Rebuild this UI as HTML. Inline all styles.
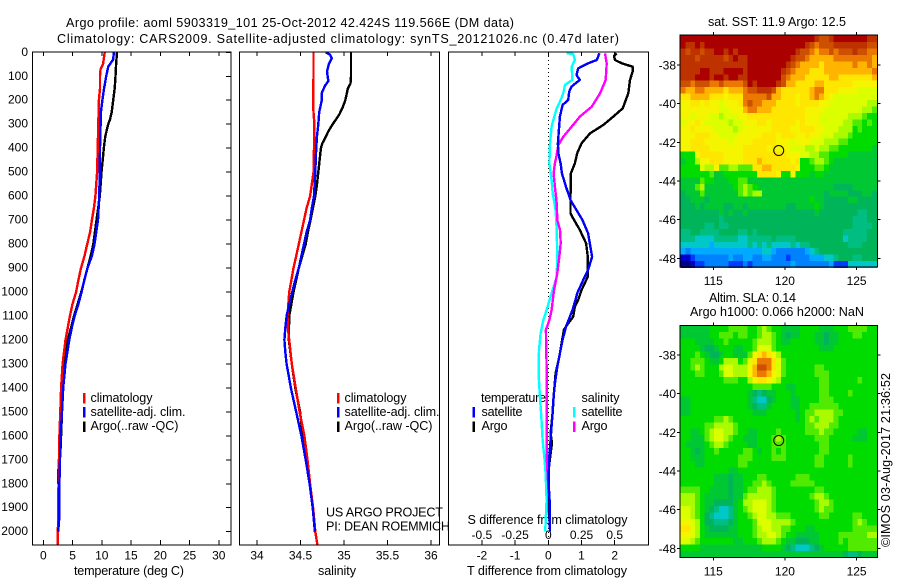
<!DOCTYPE html>
<html>
<head>
<meta charset="utf-8">
<title>Argo profile</title>
<style>
html,body{margin:0;padding:0;background:#fff;}
svg{display:block;}
text{font-family:"Liberation Sans",sans-serif;font-size:12.6px;fill:#000;}
#layer text{font-size:12px;}
</style>
</head>
<body>
<svg id="fig" xmlns="http://www.w3.org/2000/svg" width="900" height="580" viewBox="0 0 900 580">
<rect x="0" y="0" width="900" height="580" fill="#fff"/>
<text x="66" y="27" textLength="448">Argo profile: aoml 5903319_101 25-Oct-2012 42.424S 119.566E (DM data)</text>
<text x="57" y="43" textLength="562">Climatology: CARS2009. Satellite-adjusted climatology: synTS_20121026.nc (0.47d later)</text>
<text x="74" y="575" textLength="110">temperature (deg C)</text>
<text x="318" y="575" textLength="38">salinity</text>
<text x="467" y="575" textLength="160">T difference from climatology</text>
<text x="467.5" y="524" textLength="160">S difference from climatology</text>
<text x="90.5" y="402" textLength="62">climatology</text>
<text x="90.5" y="416" textLength="95">satellite-adj. clim.</text>
<text x="90.5" y="430" textLength="88">Argo(..raw -QC)</text>
<rect x="83" y="393" width="2.5" height="10.5" fill="#f00"/>
<rect x="83" y="407" width="2.5" height="10.5" fill="#00f"/>
<rect x="83" y="421.5" width="2.5" height="10.5" fill="#000"/>
<text x="344.5" y="402" textLength="62">climatology</text>
<text x="344.5" y="416" textLength="95">satellite-adj. clim.</text>
<text x="344.5" y="430" textLength="88">Argo(..raw -QC)</text>
<rect x="337" y="393" width="2.5" height="10.5" fill="#f00"/>
<rect x="337" y="407" width="2.5" height="10.5" fill="#00f"/>
<rect x="337" y="421.5" width="2.5" height="10.5" fill="#000"/>
<text x="326" y="516.5" textLength="117">US ARGO PROJECT</text>
<text x="326" y="530.5" textLength="124">PI: DEAN ROEMMICH</text>
<text x="481" y="402" textLength="65">temperature</text>
<text x="481.5" y="416" textLength="41">satellite</text>
<text x="481.5" y="430" textLength="26">Argo</text>
<rect x="472.5" y="407" width="2.5" height="10.5" fill="#00f"/>
<rect x="472.5" y="421.5" width="2.5" height="10.5" fill="#000"/>
<text x="581.5" y="402" textLength="38">salinity</text>
<text x="581.5" y="416" textLength="41">satellite</text>
<text x="581.5" y="430" textLength="26">Argo</text>
<rect x="573" y="407" width="2.5" height="10.5" fill="#0ff"/>
<rect x="573" y="421.5" width="2.5" height="10.5" fill="#f0f"/>
<text x="708" y="26" textLength="138">sat. SST: 11.9 Argo: 12.5</text>
<text x="709" y="302" textLength="87">Altim. SLA: 0.14</text>
<text x="690" y="316" textLength="174">Argo h1000: 0.066 h2000: NaN</text>
<text transform="translate(890,547) rotate(-90)" x="0" y="0" textLength="174">©IMOS 03-Aug-2017 21:36:52</text>
<g id="layer"></g>
</svg>
<script>
var depthTicks=[0,100,200,300,400,500,600,700,800,900,1000,1100,1200,1300,1400,1500,1600,1700,1800,1900,2000];
var tempTicks=[0,5,10,15,20,25,30];
var salTicks=[34,34.5,35,35.5,36];
var tDiffTicks=[-2,-1,0,1,2];
var sDiffTicks=[-0.5,-0.25,0,0.25,0.5];
var lonTicks=[115,120,125];
var latTicks=[-38,-40,-42,-44,-46,-48];
var argoLon=119.566;
var argoLat=-42.424;

var tempClimDepth=[0,50,70,100,150,200,300,400,500,600,650,700,750,800,850,900,950,1000,1050,1100,1200,1300,1400,1500,1600,1800,2000,2056];
var tempClimValues=[10.5,10.2,9.8,9.7,9.7,9.5,9.4,9.3,9.2,8.9,8.65,8.3,8,7.5,7.05,6.45,6,5.6,5,4.55,3.8,3.3,3.05,2.9,2.75,2.6,2.5,2.5];
var tempSatDepth=[0,30,60,100,150,200,250,300,400,500,600,700,800,850,900,950,1000,1050,1100,1150,1200,1300,1400,1500,1600,1800,1950,2000];
var tempSatValues=[12.05,11.95,11.1,10.75,10.4,10.1,9.85,9.8,9.7,9.65,9.55,9.35,8.75,8.3,7.55,7,6.55,6,5.35,4.85,4.45,3.8,3.4,3.2,2.95,2.75,2.7,2.55];
var tempArgoDepth=[0,50,100,150,200,250,280,300,350,400,450,500,600,700,800,850,900,1000,1100,1200,1300,1400,1500,1650,1750,1800];
var tempArgoValues=[12.6,12.45,12.35,12.2,11.95,11.7,11.4,11.1,10.6,10.35,10.15,9.95,9.65,9.1,8.55,8.1,7.55,6.5,5.25,4.2,3.65,3.35,3.2,2.95,2.55,2.55];

var salClimDepth=[0,100,200,250,300,400,500,550,600,650,700,750,800,850,900,950,1000,1100,1150,1200,1300,1400,1500,1600,1700,1800,1900,2000,2056];
var salClimValues=[34.65,34.65,34.645,34.65,34.66,34.655,34.65,34.63,34.61,34.57,34.54,34.51,34.48,34.45,34.42,34.395,34.37,34.35,34.355,34.37,34.4,34.445,34.49,34.545,34.58,34.61,34.645,34.67,34.695];
var salSatDepth=[0,10,25,50,80,120,140,170,200,250,300,350,400,500,600,650,700,750,800,850,900,950,1000,1050,1100,1150,1200,1250,1300,1400,1450,1500,1600,1700,1800,1900,2000];
var salSatValues=[34.79,34.84,34.86,34.825,34.805,34.82,34.78,34.745,34.745,34.715,34.705,34.69,34.68,34.67,34.655,34.63,34.61,34.57,34.54,34.51,34.48,34.44,34.405,34.37,34.34,34.325,34.315,34.325,34.34,34.39,34.42,34.45,34.51,34.56,34.605,34.64,34.665];
var salArgoDepth=[0,100,130,150,200,230,260,300,330,360,380,400,450,500,550,600,700,750,800,900,1000,1100,1200,1300,1400,1500,1600,1800];
var salArgoValues=[35.08,35.08,35.075,35.045,35.015,34.985,34.945,34.87,34.82,34.78,34.75,34.735,34.72,34.705,34.69,34.67,34.615,34.585,34.56,34.48,34.42,34.37,34.365,34.4,34.44,34.495,34.525,34.61];

var dTSatDepth=[4,32,46,67,95,115,143,164,199,220,268,380,421,463,505,560,616,658,700,755,853,908,950,1005,1033,1075,1145,1200,1256,1311,1381,1451,1520,1576,1632,1686,1798,1868,2000];
var dTSatValues=[1.54,1.46,1.2,0.9,0.85,0.95,0.7,0.63,0.6,0.43,0.35,0.29,0.3,0.37,0.41,0.53,0.67,0.85,1.03,1.2,1.32,1.2,1.05,0.87,0.82,0.73,0.53,0.43,0.35,0.27,0.2,0.15,0.12,0.09,0.06,0.03,0.01,0.04,0.05];
var dTArgoDepth=[4,15,32,46,60,81,115,171,234,268,303,338,380,421,463,505,602,672,693,741,797,853,936,992,1033,1061,1103,1131,1158,1214,1270,1340,1423,1506,1590,1632,1673,1729,1950];
var dTArgoValues=[2.06,1.98,2.01,2.21,2.54,2.54,2.46,2.41,2.24,1.96,1.66,1.26,1,0.87,0.8,0.68,0.67,0.67,0.75,0.95,1.14,1.19,1.19,1,0.9,0.8,0.75,0.6,0.47,0.4,0.33,0.22,0.17,0.13,0.07,0.11,0.07,0.02,0.02];
var dSSatDepth=[4,7,32,60,115,136,171,199,234,268,310,380,463,533,588,658,741,853,936,1005,1075,1117,1173,1242,1340,1437,1520,1617,1687,1756,1868,2000];
var dSSatValues=[0.138,0.188,0.2,0.176,0.181,0.126,0.113,0.093,0.063,0.045,0.025,0.013,0.008,0.025,0.033,0.055,0.063,0.068,0.063,0.025,-0.013,-0.038,-0.058,-0.07,-0.073,-0.063,-0.053,-0.043,-0.03,-0.02,-0.013,-0.023];
var dSArgoDepth=[4,46,115,171,227,268,310,352,387,428,463,505,560,630,700,741,797,853,922,992,1075,1117,1158,1311,1617,1687,1729,1812,1937];
var dSArgoValues=[0.427,0.44,0.432,0.39,0.327,0.239,0.176,0.113,0.075,0.063,0.05,0.04,0.05,0.063,0.068,0.088,0.093,0.083,0.068,0.043,0.025,0.008,-0.018,-0.013,-0.013,-0.013,-0.008,0,0.005];

var sstGrid=[
[19,19,19,19,19,19,19,19,19,19,19,19,19,19,19,19,19,19,19,19,19,19,19,19,19,19,19,19,18,17,17,18,19,19,19,19,19,19,19,18,18],
[19,18,18,19,18,19,19,19,19,19,19,19,19,19,19,19,19,19,19,19,19,19,19,19,19,19,18,17,16,17,17,17,18,18,18,18,18,18,18,17,17],
[18,17,18,18,17,18,18,19,19,18,19,18,19,19,19,19,19,19,19,19,19,19,19,19,18,17,17,16,15,16,16,17,16,17,17,17,18,17,17,16,16],
[18,18,18,17,18,18,18,18,18,17,18,19,18,18,19,19,19,19,19,19,19,19,19,18,17,17,16,15,15,15,15,15,16,16,16,16,16,16,16,16,15],
[18,18,18,18,18,18,18,18,18,18,18,18,18,18,19,19,19,19,19,19,19,19,18,17,16,15,15,15,15,14,15,15,15,15,15,15,16,15,15,16,15],
[18,18,18,18,19,19,18,18,18,19,19,19,19,18,19,19,19,19,19,19,19,18,17,16,15,15,15,14,14,14,15,15,15,15,15,15,15,15,15,15,16],
[18,18,18,19,19,19,18,19,19,18,19,19,18,18,19,19,19,19,19,19,19,17,16,15,15,15,14,14,14,14,14,15,15,14,14,14,14,14,14,14,15],
[17,17,16,17,17,17,16,16,17,16,16,16,16,17,19,18,19,19,19,19,18,17,15,15,14,14,14,14,15,15,14,14,14,14,14,14,13,13,13,13,13],
[16,15,15,16,16,15,15,15,15,14,15,15,15,16,17,17,18,18,18,17,15,14,14,14,14,14,14,15,16,16,14,14,14,13,13,13,13,12,12,12,12],
[14,14,15,15,15,15,14,14,14,13,14,14,14,16,16,16,16,16,17,15,15,14,14,14,13,14,14,15,16,15,14,13,12,12,12,12,12,12,12,12,12],
[13,13,14,14,13,14,13,13,12,13,13,13,14,16,17,16,16,15,15,15,14,14,14,14,13,14,14,14,14,13,13,12,12,12,12,12,12,12,12,11,11],
[13,13,13,13,13,13,13,13,12,12,13,13,13,15,16,16,15,15,15,14,14,14,14,14,14,14,13,13,13,13,12,12,12,12,12,12,12,12,11,11,10],
[13,13,12,13,13,13,12,12,11,12,12,12,13,13,14,14,14,14,14,14,14,14,14,14,14,14,13,13,13,12,12,12,12,12,12,11,11,11,10,9,9],
[12,13,13,14,13,12,12,12,12,12,11,12,12,13,13,13,14,14,13,14,14,14,14,14,13,14,13,13,13,12,12,12,12,12,11,11,10,10,9,10,9],
[13,13,14,13,13,13,13,12,12,12,12,11,12,13,13,13,13,13,13,14,14,14,14,13,13,14,14,14,13,13,12,12,12,11,11,11,9,10,9,9,9],
[13,13,13,14,14,14,13,13,12,12,12,12,13,13,13,13,13,14,14,14,13,14,14,14,13,13,14,13,13,12,12,12,11,11,11,10,9,9,9,9,9],
[13,13,14,14,14,13,13,13,13,13,12,13,13,13,13,14,14,14,14,14,13,13,13,12,13,13,13,12,12,12,11,11,11,10,10,9,9,9,9,9,9],
[13,13,14,14,14,14,13,13,13,13,13,13,13,14,14,14,14,14,13,14,13,13,13,12,12,12,11,11,12,11,11,10,10,9,9,9,9,9,9,9,8],
[9,9,9,13,14,14,14,14,14,13,13,13,13,14,14,14,14,14,14,14,14,14,13,13,13,12,12,11,11,10,10,9,9,9,9,8,8,8,8,8,8],
[8,9,9,11,13,13,14,14,14,13,13,13,13,14,14,14,15,14,14,14,14,14,14,13,14,9,9,10,11,11,10,9,8,8,8,8,8,8,8,8,8],
[9,9,9,9,12,11,11,13,10,10,11,11,10,10,10,14,14,15,15,14,14,14,14,14,13,9,9,9,10,10,9,8,8,8,8,8,8,8,8,8,8],
[9,9,9,9,9,9,10,8,8,9,9,9,9,9,9,9,14,14,14,14,13,9,9,13,9,9,9,8,9,9,8,8,8,8,8,8,8,8,8,8,8],
[8,8,8,8,10,9,9,8,8,8,9,9,10,10,8,8,8,8,8,8,8,8,8,8,8,8,8,8,8,8,8,8,8,8,8,8,8,8,8,8,8],
[8,8,8,10,11,8,8,8,8,8,8,9,10,11,10,9,8,8,8,8,8,8,8,8,8,8,8,8,8,8,8,8,7,7,7,7,8,8,8,8,8],
[7,8,8,8,10,8,8,8,8,8,8,8,10,11,10,11,11,8,8,8,8,8,8,8,8,8,8,8,8,8,7,8,8,8,8,7,7,7,8,8,7],
[7,7,8,8,8,7,8,8,8,8,8,8,8,8,8,8,8,8,8,8,8,8,8,8,8,8,8,9,8,8,7,7,7,7,7,8,8,7,7,7,7],
[7,7,7,8,7,8,8,8,8,7,7,8,8,7,8,8,8,8,8,8,8,8,7,7,8,8,8,8,9,8,7,7,7,7,7,7,7,7,7,7,7],
[7,7,7,7,7,7,7,7,8,7,8,7,7,8,7,7,7,7,7,7,7,7,7,7,7,7,7,7,8,7,7,7,7,7,7,7,7,6,6,7,7],
[7,7,7,7,7,7,7,7,6,7,7,7,7,7,7,7,7,7,7,7,7,7,7,7,7,7,7,7,7,7,7,7,7,7,7,7,6,6,6,7,7],
[7,7,7,7,7,6,6,7,6,6,7,7,7,7,7,7,7,7,7,7,7,7,7,7,7,7,7,7,7,7,7,7,7,7,7,7,6,6,6,6,7],
[6,6,7,7,6,6,6,6,7,7,7,7,6,6,7,6,7,7,7,7,7,7,7,7,7,7,7,7,7,7,7,7,7,7,6,6,6,6,6,7,7],
[6,6,6,5,5,5,5,6,6,6,6,6,5,5,6,6,6,6,6,7,6,6,6,6,7,7,7,7,7,7,7,7,7,7,5,6,6,6,6,7,7],
[5,5,5,5,5,5,4,5,5,5,5,5,5,5,6,5,6,5,6,5,5,5,5,6,5,6,6,7,7,7,7,7,7,7,7,6,6,6,7,7,7],
[4,3,4,4,4,4,4,4,4,4,4,4,4,4,4,4,4,5,5,4,3,3,3,3,3,3,4,5,6,7,7,7,7,7,7,7,7,7,7,7,7],
[1,1,2,3,3,3,3,3,3,3,4,3,3,4,4,3,3,4,4,3,3,3,2,3,3,3,3,4,4,4,5,5,6,7,7,7,6,6,7,7,7],
[0,0,1,2,2,3,3,3,3,3,2,2,2,3,2,3,3,3,3,3,3,3,3,4,3,3,3,3,3,3,3,4,2,2,2,5,5,5,5,5,5]
];
var slaGrid=[
[8,8,8,8,8,8,9,9,9,9,10,10,10,10,9,9,10,11,10,9,9,8,8,8,8,9,9,9,9,8,8,8,9,9,9,10,10,10,10,9,9],
[8,8,8,8,8,8,9,9,10,10,10,9,10,10,9,9,10,11,11,10,9,8,7,8,8,9,9,9,8,8,7,8,8,9,9,9,10,10,9,9,9],
[9,9,9,8,8,8,8,9,9,10,9,9,9,9,9,10,11,11,11,10,9,8,8,9,9,9,9,9,8,8,7,8,8,9,9,9,9,9,9,9,9],
[9,9,9,9,8,7,7,8,9,9,9,8,8,9,9,10,12,12,12,10,9,9,9,9,9,9,9,9,9,8,8,8,9,9,9,9,9,9,9,9,9],
[9,9,9,10,9,8,7,7,8,9,9,8,8,8,10,13,14,15,14,13,11,9,9,9,9,9,9,9,9,9,9,9,9,9,9,9,9,9,9,9,9],
[9,9,10,10,10,9,8,8,9,11,11,11,9,10,12,14,16,16,16,14,12,10,9,9,9,9,9,9,9,9,9,9,9,9,9,9,9,9,9,9,9],
[9,9,10,11,10,9,9,9,11,12,12,11,11,11,13,15,17,17,16,14,12,10,9,9,9,9,9,9,10,10,9,9,9,9,9,9,9,9,9,9,9],
[9,9,9,10,10,9,9,9,10,12,12,11,11,11,13,15,16,16,15,13,12,10,9,9,9,9,9,9,10,10,10,9,9,9,9,9,9,9,9,9,9],
[9,9,9,9,9,9,9,9,9,10,10,10,9,9,11,13,14,14,13,12,11,9,9,9,9,9,9,9,9,10,10,9,9,9,9,9,9,10,9,9,9],
[9,9,9,9,9,9,9,9,9,9,9,9,9,9,9,10,10,10,10,9,9,9,8,8,9,9,9,9,9,10,10,9,9,9,9,9,9,9,9,9,9],
[9,9,9,9,9,9,9,9,9,9,9,9,9,9,8,7,6,7,8,8,9,9,9,8,9,9,9,9,9,10,10,9,9,9,9,10,9,9,9,9,9],
[8,8,9,9,9,9,9,9,9,9,9,9,9,9,8,6,5,5,7,8,9,9,9,8,8,9,9,9,9,10,10,10,9,9,9,9,9,9,9,9,9],
[8,8,9,9,9,9,9,9,9,9,9,9,9,9,8,7,6,6,8,9,9,9,9,8,8,9,9,10,10,10,10,10,10,9,9,9,9,9,9,9,9],
[8,8,9,9,9,9,9,9,9,9,9,9,9,9,9,8,8,8,9,9,9,9,9,9,8,9,10,10,11,11,11,11,10,10,9,9,9,9,9,9,9],
[9,9,9,9,9,9,9,10,10,11,10,9,9,9,9,9,9,9,9,9,9,9,9,9,8,9,10,11,10,11,11,11,10,9,9,9,9,9,9,9,9],
[9,9,9,9,9,10,10,11,11,11,11,10,9,9,9,9,9,9,9,9,9,9,9,9,9,9,10,10,11,11,11,10,10,9,9,9,9,9,9,9,9],
[9,9,8,8,9,10,11,12,12,11,11,10,9,9,8,8,9,9,9,9,10,9,9,9,9,9,10,10,10,11,10,10,9,9,9,9,9,8,8,9,9],
[9,9,8,8,8,10,11,12,12,11,10,9,9,8,8,8,9,9,9,10,11,10,9,9,9,9,9,9,10,10,10,9,9,9,9,9,8,8,8,9,9],
[9,8,8,8,8,9,10,11,11,10,9,9,9,9,8,8,9,9,9,10,10,10,9,9,9,9,9,9,9,10,10,9,9,9,9,9,9,9,9,9,9],
[9,9,8,7,8,9,9,10,9,9,9,9,9,10,10,9,8,9,9,10,9,10,9,9,9,9,9,9,9,10,10,9,9,9,9,9,9,9,9,9,9],
[9,9,8,8,8,9,9,9,9,9,9,9,10,10,10,9,9,9,9,10,10,10,9,9,9,9,9,9,10,10,9,9,9,9,9,10,9,9,9,9,9],
[9,9,9,8,8,9,9,9,9,9,9,9,10,10,9,9,9,9,9,9,9,9,9,9,9,9,9,9,10,10,9,9,9,9,9,10,9,9,9,9,9],
[9,9,9,9,9,9,9,9,9,9,8,8,9,9,9,9,9,9,9,9,9,9,9,9,9,9,9,9,9,9,9,9,9,9,9,9,9,9,9,9,9],
[9,9,9,9,9,9,9,8,8,8,7,8,8,9,9,9,10,10,9,9,9,9,9,9,10,10,10,9,9,9,9,9,9,9,9,9,9,9,9,9,9],
[9,9,9,9,9,9,9,8,8,8,7,8,8,9,9,10,10,11,10,9,9,9,9,10,10,10,10,10,9,9,9,9,9,9,9,9,9,9,9,9,9],
[10,10,10,10,9,9,8,8,8,8,7,8,8,9,10,10,11,11,11,10,9,9,9,9,9,9,9,9,10,10,9,9,9,9,9,9,9,9,9,9,9],
[11,11,11,10,9,8,8,8,8,8,7,8,8,10,11,11,11,11,11,10,9,9,9,9,9,9,9,10,11,11,10,9,9,9,9,9,9,9,9,9,9],
[11,11,11,10,9,8,8,7,7,7,7,8,9,11,11,12,12,12,11,10,9,9,9,9,9,9,9,9,10,11,11,10,9,9,9,9,9,9,9,9,9],
[12,12,11,10,9,8,7,6,5,5,6,8,9,10,11,12,12,12,11,10,9,9,9,9,9,9,9,9,10,11,10,10,9,9,9,9,9,9,9,9,9],
[12,12,11,10,9,7,6,5,5,5,6,8,9,9,10,11,12,12,11,11,10,10,10,9,9,9,9,9,9,10,10,9,9,9,9,9,10,10,9,9,9],
[13,13,12,11,9,7,7,6,6,6,7,8,9,9,9,10,12,12,12,11,11,11,11,10,9,9,9,9,9,9,9,9,9,9,9,9,10,11,10,9,9],
[14,14,12,11,9,8,7,7,7,7,8,8,9,9,9,10,11,12,12,11,11,10,10,9,9,9,8,8,9,9,9,9,9,9,9,9,10,10,10,10,10],
[13,13,12,11,9,8,8,8,8,8,8,8,9,9,9,10,11,11,12,12,11,10,9,9,8,8,8,8,8,9,9,9,9,10,10,10,10,10,10,11,11],
[12,12,11,10,9,9,9,9,9,9,9,8,8,9,9,9,10,11,11,11,10,9,8,8,7,7,7,8,8,9,9,9,9,10,9,10,10,10,10,10,10],
[9,9,9,9,8,8,8,8,8,8,8,8,8,8,8,8,8,9,9,9,9,8,7,6,5,5,5,6,7,8,9,9,9,9,9,10,10,10,10,10,10],
[8,8,8,8,8,8,8,8,8,8,8,8,8,8,8,8,8,8,8,8,8,8,8,8,8,8,8,8,8,8,8,8,8,8,7,6,6,7,8,8,8]
];
var levelColors=["#000082","#0000c8","#003cff","#0082ff","#00aaff","#00c8c8","#00be82","#00b45a","#00c832","#00dc00","#50eb00","#aafa00","#dcff00","#f5f500","#ffe600","#ffb400","#eb7800","#cd5000","#be3200","#aa0000"];

var NS='http://www.w3.org/2000/svg';
var layer=document.getElementById('layer');

function yDepth(d){return 52.3+0.2397*d;}
function xTemp(v){return 43.3+5.85*v;}
function xSal(v){return 257+87*(v-34);}
function xTDiff(v){return 548.3+33.2*v;}
function xSDiff(v){return 548.3+132.8*v;}
function xLon(v){return 713.3+14.33*(v-115);}
function ySst(v){return 65+19.33*(-38-v);}
function ySla(v){return 355+19.33*(-38-v);}
var gridLon0=112.725;
var gridLat0=-36.48;
var gridStep=1/3;

function shape(tag,attrs){
  var el=document.createElementNS(NS,tag);
  for(var k in attrs){el.setAttribute(k,attrs[k]);}
  layer.appendChild(el);
  return el;
}
function tick(x1,y1,x2,y2,name){
  var el=shape('line',{x1:x1,y1:y1,x2:x2,y2:y2,stroke:'#000','stroke-width':1,'shape-rendering':'crispEdges'});
  
  
}
function label(x,y,str,anchor,name){
  var el=shape('text',{x:x,y:y,'text-anchor':anchor});
  el.textContent=str;
  
  
}
function frame(x,y,w,h,name){
  var el=shape('rect',{x:x,y:y,width:w,height:h,fill:'none',stroke:'#000','stroke-width':1,'shape-rendering':'crispEdges'});
  
  
}
function series(depths,values,xFn,color,name,width){
  var pts=depths.map(function(d,i){return xFn(values[i]).toFixed(1)+','+yDepth(d).toFixed(1);}).join(' ');
  var el=shape('polyline',{points:pts,fill:'none',stroke:color,'stroke-width':width,'shape-rendering':'crispEdges','stroke-linejoin':'round'});
  
  
}
function heatmap(grid,yFn,name){
  grid.forEach(function(row,r){
    row.forEach(function(v,c){
      var x0=xLon(gridLon0+c*gridStep),x1=xLon(gridLon0+(c+1)*gridStep);
      var y0=yFn(gridLat0-r*gridStep),y1=yFn(gridLat0-(r+1)*gridStep);
      var el=shape('rect',{x:x0,y:y0,width:x1-x0+0.4,height:y1-y0+0.4,fill:levelColors[Math.max(0,Math.min(levelColors.length-1,Math.round(v)))],'shape-rendering':'crispEdges'});
      
      
    });
  });
}

var pTop=52,pBot=545;
/* temperature panel */
series(tempArgoDepth,tempArgoValues,xTemp,'#000','temperature-argo-line',2.4);
series(tempClimDepth,tempClimValues,xTemp,'#f00','temperature-climatology-line',2.4);
series(tempSatDepth,tempSatValues,xTemp,'#00f','temperature-satellite-line',2.4);
frame(32.5,pTop,198.5,pBot-pTop,'temperature-panel-frame');
depthTicks.forEach(function(d){
  tick(226,yDepth(d),231,yDepth(d),'temperature-panel-depth-tick');
  label(28,yDepth(d)+3.5,String(d),'end','depth-tick-label');
});
tempTicks.forEach(function(v){
  tick(xTemp(v),pTop,xTemp(v),pTop+4,'temperature-top-tick');
  tick(xTemp(v),pBot-5,xTemp(v),pBot,'temperature-bottom-tick');
  label(xTemp(v),559.5,String(v),'middle','temperature-tick-label');
});
/* salinity panel */
series(salArgoDepth,salArgoValues,xSal,'#000','salinity-argo-line',2.4);
series(salClimDepth,salClimValues,xSal,'#f00','salinity-climatology-line',2.4);
series(salSatDepth,salSatValues,xSal,'#00f','salinity-satellite-line',2.4);
frame(239.5,pTop,200,pBot-pTop,'salinity-panel-frame');
salTicks.forEach(function(v){
  tick(xSal(v),pTop,xSal(v),pTop+4,'salinity-top-tick');
  tick(xSal(v),pBot-5,xSal(v),pBot,'salinity-bottom-tick');
  label(xSal(v),559.5,String(v),'middle','salinity-tick-label');
});
/* difference panel */
var zeroLine=shape('line',{x1:xTDiff(0),y1:pTop,x2:xTDiff(0),y2:pBot,stroke:'#000','stroke-width':1,'stroke-dasharray':'1 3','shape-rendering':'crispEdges'});


series(dSSatDepth,dSSatValues,xSDiff,'#0ff','s-diff-satellite-line',2.4);
series(dSArgoDepth,dSArgoValues,xSDiff,'#f0f','s-diff-argo-line',2.4);
series(dTArgoDepth,dTArgoValues,xTDiff,'#000','t-diff-argo-line',2.4);
series(dTSatDepth,dTSatValues,xTDiff,'#00f','t-diff-satellite-line',2.4);
frame(448.5,pTop,200,pBot-pTop,'difference-panel-frame');
tDiffTicks.forEach(function(v){
  tick(xTDiff(v),pTop,xTDiff(v),pTop+4,'t-diff-top-tick');
  tick(xTDiff(v),pBot-5,xTDiff(v),pBot,'t-diff-bottom-tick');
  label(xTDiff(v),559.5,String(v),'middle','t-diff-tick-label');
});
sDiffTicks.forEach(function(v){
  label(xSDiff(v),539,String(v),'middle','s-diff-tick-label');
});
/* maps */
heatmap(sstGrid,ySst,'sst-cell');
heatmap(slaGrid,ySla,'sla-cell');
[[ySst,35,267,'sst'],[ySla,325.5,557.5,'sla']].forEach(function(m){
  var yFn=m[0],top=m[1],bot=m[2],nm=m[3];
  frame(680,top,197.5,bot-top,nm+'-map-frame');
  lonTicks.forEach(function(v){
    tick(xLon(v),top-3,xLon(v),top,nm+'-lon-top-tick');
    tick(xLon(v),bot,xLon(v),bot+3,nm+'-lon-bottom-tick');
    label(xLon(v),bot+18,String(v),'middle',nm+'-lon-tick-label');
  });
  latTicks.forEach(function(v){
    tick(677,yFn(v),680,yFn(v),nm+'-lat-left-tick');
    tick(877.5,yFn(v),880.5,yFn(v),nm+'-lat-right-tick');
    label(676,yFn(v)+4.5,String(v),'end',nm+'-lat-tick-label');
  });
  var c=shape('circle',{cx:xLon(argoLon),cy:yFn(argoLat),r:5,fill:'none',stroke:'#000','stroke-width':1});
  
  
});
</script>
</body>
</html>
